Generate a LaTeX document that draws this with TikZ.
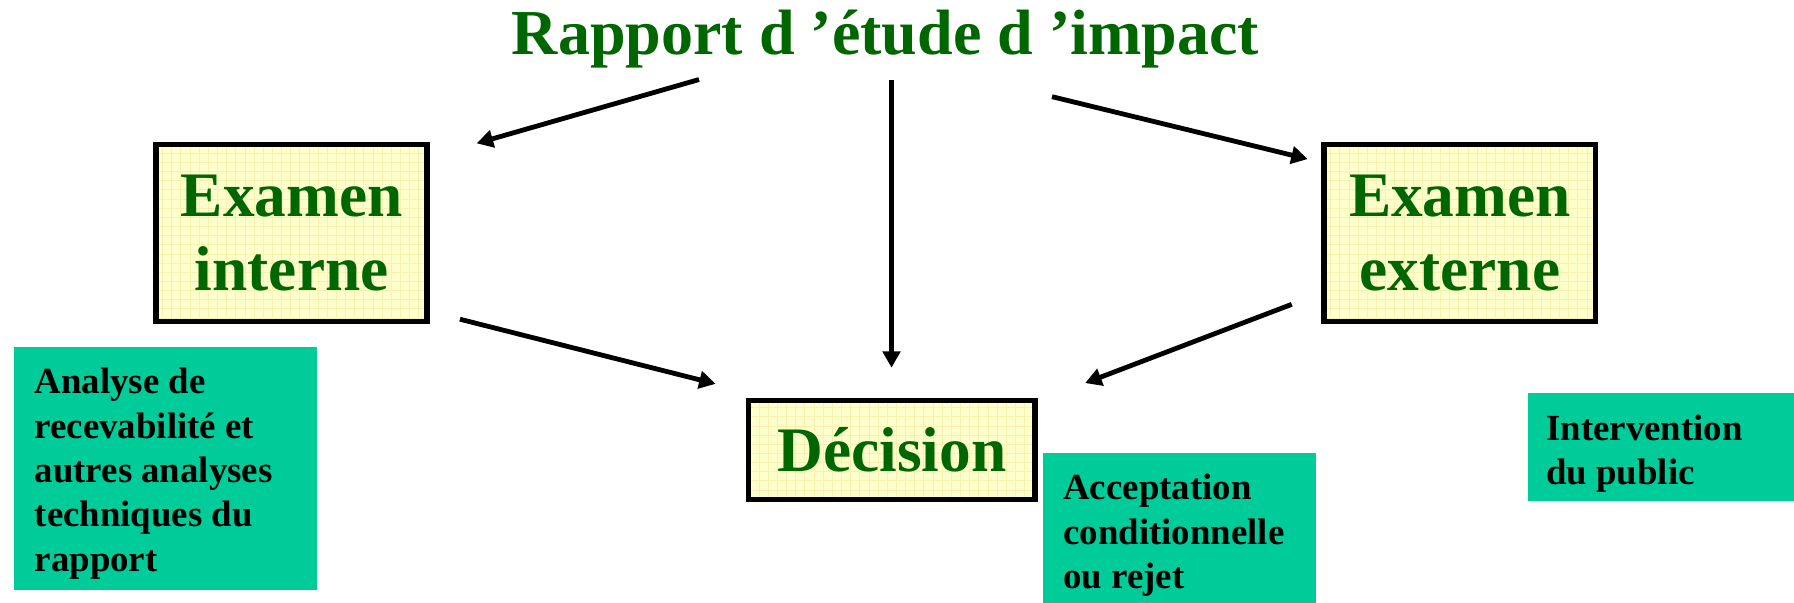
\documentclass[tikz,border=0pt]{standalone}
\usepackage{fontspec}
\setmainfont{Liberation Serif}
\usetikzlibrary{arrows.meta}
\definecolor{dgreen}{HTML}{006600}
\definecolor{paleyellow}{HTML}{FFFFCC}
\definecolor{gridyellow}{HTML}{F7F2B0}
\definecolor{seagreen}{HTML}{00CC99}
\begin{document}
\begin{tikzpicture}[x=0.5pt,y=-0.5pt,
  yellowbox/.style={rectangle, draw=black, line width=2.5pt, fill=paleyellow, inner sep=0pt,
    text=dgreen, font=\fontsize{27.7}{32.5}\selectfont\bfseries, align=center,
    path picture={\draw[gridyellow, line width=0.35pt]
      (path picture bounding box.south west) grid[step=4pt] (path picture bounding box.north east);}},
  greenbox/.style={rectangle, fill=seagreen, draw=none, inner sep=0pt, anchor=north west},
  greentext/.style={text=black, font=\fontsize{16.1}{19.4}\selectfont\bfseries, align=left,
    inner sep=0pt, anchor=north west},
  titletext/.style={text=dgreen, font=\fontsize{28}{32}\selectfont\bfseries, inner sep=0pt, anchor=base},
  conn/.style={line width=2.1pt, -{Triangle[length=7.2pt,width=7.6pt]}}
]
\useasboundingbox (0,0) rectangle (1568,527);

% title
\node[titletext] (title) at (774,48) {Rapport d ’étude d ’impact};

% yellow boxes
\node[yellowbox, minimum width=118.5pt, minimum height=77.3pt] (interne) at (255,203.6) {Examen\\interne};
\node[yellowbox, minimum width=118.5pt, minimum height=77.3pt] (externe) at (1276,203.6) {Examen\\externe};
\node[yellowbox, minimum width=125.2pt, minimum height=43.2pt] (decision) at (779.5,393.3) {Décision};

% green boxes
\node[greenbox, minimum width=132.5pt, minimum height=105.9pt] (gA) at (12,303.3) {};
\node[greentext] (tA) at (30,321.4) {Analyse de\\recevabilité et\\autres analyses\\techniques du\\rapport};
\node[greenbox, minimum width=119.5pt, minimum height=65.7pt] (gB) at (911,395.7) {};
\node[greentext] (tB) at (929,414) {Acceptation\\conditionnelle\\ou rejet};
\node[greenbox, minimum width=116.5pt, minimum height=47.3pt] (gC) at (1335,343) {};
\node[greentext] (tC) at (1351,362) {Intervention\\du public};

% connector end points
\coordinate (s1) at (611,69.5);
\coordinate (e1) at (416.6,125.3);
\coordinate (s2) at (779.2,70);
\coordinate (e2) at (779.2,321.4);
\coordinate (s3) at (919.5,84.5);
\coordinate (e3) at (1143,139);
\coordinate (s4) at (402,279);
\coordinate (e4) at (625.5,335.5);
\coordinate (s5) at (1129,266);
\coordinate (e5) at (948.4,334.8);

\draw[conn] (s1) -- (e1);
\draw[conn] (s2) -- (e2);
\draw[conn] (s3) -- (e3);
\draw[conn] (s4) -- (e4);
\draw[conn] (s5) -- (e5);
\end{tikzpicture}
\end{document}
